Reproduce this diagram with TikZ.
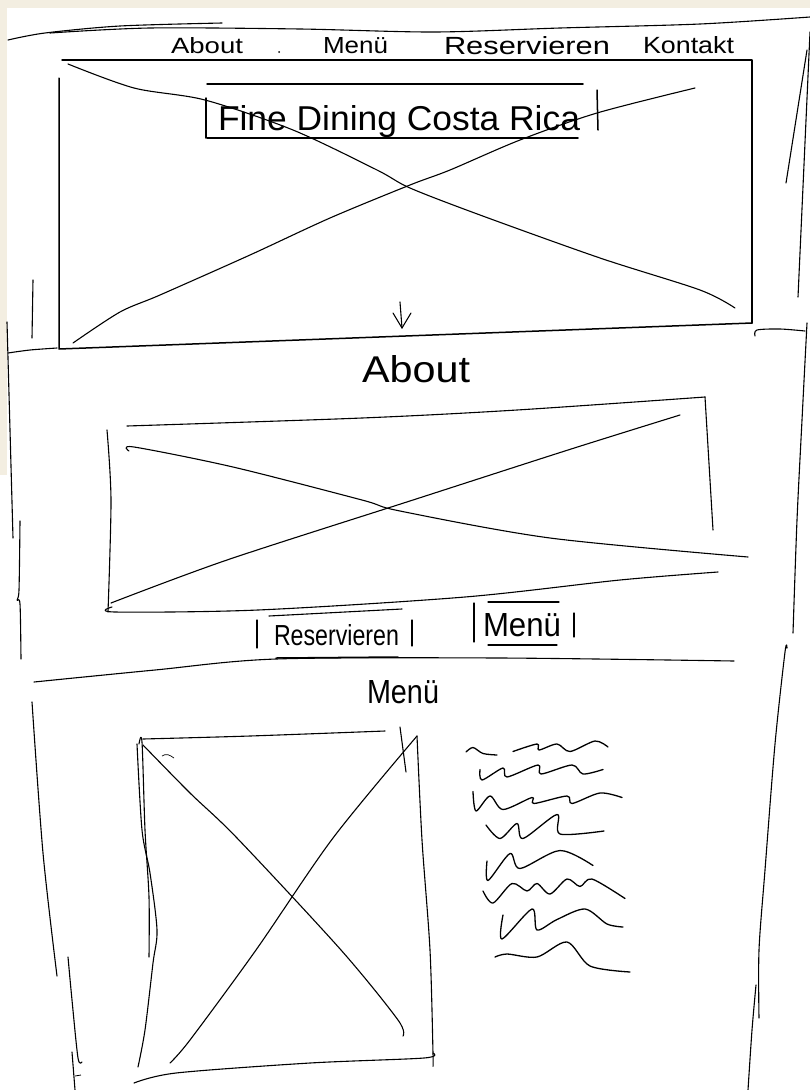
\documentclass[tikz,border=0pt]{standalone}
\usepackage{fontspec}
\setmainfont{Liberation Sans}
\usepackage{graphicx}
\definecolor{paper}{HTML}{F3EEE1}
\newcommand{\hwtext}[3]{\resizebox{#1pt}{#2pt}{#3}}
\begin{document}
\begin{tikzpicture}[x=1pt,y=-1pt,
  pen/.style={line width=1.5pt,line cap=round,line join=round},
  fine/.style={line width=1.1pt,line cap=round,line join=round},
  wave/.style={line width=1.3pt,line cap=round,line join=round},
  amp/.style={shift={(0,#1)},yscale=1.5,shift={(0,-#1)}},
  txt/.style={anchor=base west,inner sep=0pt,outer sep=0pt}]
\useasboundingbox (0,0) rectangle (810,1090);
% paper
\fill[white] (0,0) rectangle (810,1090);
\fill[paper] (0,0) rectangle (810,8);
\fill[paper] (0,0) rectangle (7,475);

% ---------- top navigation ----------
\draw[fine] plot[smooth] coordinates {(8,40) (45,33) (120,26) (222,23)};
\draw[fine] plot[smooth] coordinates {(50,33) (150,28) (300,29) (434,32) (560,28) (700,24) (810,17)};
\node[txt] (navabout) at (171,53) {\hwtext{72}{16}{About}};
\fill (279,52) circle (1pt);
\node[txt] (navmenu) at (323,53) {\hwtext{65}{16}{Menü}};
\node[txt] (navres) at (444,54) {\hwtext{166}{18}{Reservieren}};
\node[txt] (navkon) at (643,53) {\hwtext{91}{17}{Kontakt}};

% ---------- hero ----------
\draw[pen] (62,60) -- (752,60) -- (752,323);
\draw[pen] (59,78) -- (59,349) -- (752,323);
\draw[fine] plot[smooth] coordinates {(68,64) (134,88) (205,100) (293,130) (377,170) (410,188) (480,215) (600,258) (700,290) (735,308)};
\draw[fine] plot[smooth] coordinates {(73,343) (120,312) (160,295) (250,255) (330,218) (410,185) (450,170) (520,140) (597,113) (695,88)};
% title box
\draw[pen] (207,84) -- (583,84);
\draw[pen] (207,138) -- (578,138);
\draw[pen] (206,98) -- (206,138);
\draw[pen] (597,90) -- (598,130);
\node[txt] (title) at (218,130) {\hwtext{362}{25}{Fine Dining Costa Rica}};
% scroll arrow
\draw[fine] (400,302) -- (402,328);
\draw[fine] (393,313) -- (402,328) -- (411,313);

% page edges, first section
\draw[fine] (810,32) -- (798,297);
\draw[fine] (807,50) -- (786,183);
\draw[fine] (33,280) -- (32,338);
\draw[fine] plot[smooth] coordinates {(8,353) (30,350) (57,348)};
\draw[fine] plot[smooth] coordinates {(755,336) (757,330) (780,329) (805,331)};
\draw[fine] plot[smooth] coordinates {(807,323) (802,420) (797,520) (793,633)};
\draw[fine] plot[smooth] coordinates {(7,322) (10,430) (13,538)};
\draw[fine] plot[smooth] coordinates {(20,521) (19,590) (17,600) (20,604) (21,659)};

% ---------- About ----------
\node[txt] (abouthead) at (362,382) {\hwtext{108}{27}{About}};
\draw[fine] plot[smooth] coordinates {(127,426) (362,418) (517,410) (705,397)};
\draw[fine] (705,397) -- (713,530);
\draw[fine] plot[smooth] coordinates {(107,430) (111,500) (108,612)};
\draw[fine] plot[smooth] coordinates {(112,607) (115,612) (258,610) (465,597) (620,580) (718,572)};
\draw[fine] plot[smooth] coordinates {(129,451) (134,447) (233,467) (362,500) (400,511) (550,538) (748,557)};
\draw[fine] plot[smooth] coordinates {(111,603) (227,560) (413,500) (568,450) (680,415)};
% buttons
\draw[fine] (257,620) -- (257,648);
\draw[fine] (269,616) -- (402,609);
\draw[fine] (412,620) -- (412,646);
\node[txt] (resbtn) at (274,645) {\hwtext{125}{21}{Reservieren}};
\draw[fine] (474,603) -- (474,642);
\draw[fine] (488,602) -- (559,602);
\draw[fine] (488,645) -- (557,645);
\draw[fine] (574,613) -- (574,637);
\node[txt] (menubtn) at (483,636) {\hwtext{78}{23}{Menü}};
% separator
\draw[fine] plot[smooth] coordinates {(34,682) (155,670) (276,659) (500,658) (734,661)};
\draw[pen] (276,658) -- (398,657);

% ---------- Menü ----------
\node[txt] (menuhead) at (367,703) {\hwtext{72}{23}{Menü}};
\draw[fine] plot[smooth] coordinates {(143,739) (250,736) (385,731)};
\draw[fine] (400,727) -- (406,772);
\draw[fine] plot[smooth] coordinates {(417,736) (422,840) (430,950) (433,1053) (433,1066)};
\draw[fine] plot[smooth] coordinates {(134,1083) (176,1073) (310,1063) (424,1058) (433,1053)};
\draw[fine] plot[smooth] coordinates {(137,744) (142,830) (150,873) (157,930) (153,963) (145,1030) (138,1067)};
\draw[fine] plot[smooth] coordinates {(139,744) (142,742) (145,830) (149,897) (149,957)};
\draw[fine] plot[smooth] coordinates {(143,745) (190,793) (237,838) (341,950) (398,1020) (403,1036)};
\draw[fine] plot[smooth] coordinates {(417,736) (333,838) (256,950) (190,1040) (170,1063)};
\draw[line width=0.7pt] (162,756) .. controls (166,753) and (170,755) .. (174,758);
% menu text squiggles
\draw[wave,amp=752] plot[smooth] coordinates {(466,752) (473,749) (483,753) (497,754)};
\draw[wave,amp=747] plot[smooth,tension=0.5] coordinates {(513,750) (537,745) (539,749) (557,745) (570,750) (595,743) (608,747)};
\draw[wave,amp=771] plot[smooth,tension=0.5] coordinates {(480,770) (482,777) (503,769) (507,775) (538,767) (541,773) (572,767) (583,773) (603,770)};
\draw[wave,amp=799] plot[smooth,tension=0.5] coordinates {(473,794) (476,807) (490,797) (503,806) (532,798) (534,802) (567,797) (572,802) (600,795) (622,798)};
\draw[wave,amp=828] plot[smooth,tension=0.5] coordinates {(486,826) (500,835) (517,825) (523,835) (557,819) (560,832) (604,830)};
\draw[wave,amp=864] plot[smooth,tension=0.5] coordinates {(487,862) (488,875) (510,857) (520,867) (560,855) (593,865)};
\draw[wave,amp=888] plot[smooth,tension=0.5] coordinates {(483,890) (493,898) (512,885) (527,890) (537,885) (550,892) (567,882) (580,887) (592,882) (625,895)};
\draw[wave,amp=921] plot[smooth,tension=0.5] coordinates {(503,917) (502,933) (532,913) (537,927) (557,920) (585,913) (607,923) (623,925)};
\draw[wave,amp=957] plot[smooth,tension=0.5] coordinates {(495,957) (507,955) (537,957) (567,947) (590,963) (630,967)};

% page edges, last section
\draw[fine] plot[smooth] coordinates {(32,702) (43,853) (57,976)};
\draw[fine] plot[smooth] coordinates {(68,957) (72,1000) (78,1058) (82,1062)};
\draw[fine] (72,1052) -- (75,1090);
\draw[line width=0.8pt] (75,1076) -- (81,1075);
\draw[fine] plot[smooth] coordinates {(787,648) (785,652) (775,744) (765,870) (759,950) (759,1018)};
\draw[fine] plot[smooth] coordinates {(756,985) (752,1030) (748,1090)};
\end{tikzpicture}
\end{document}
